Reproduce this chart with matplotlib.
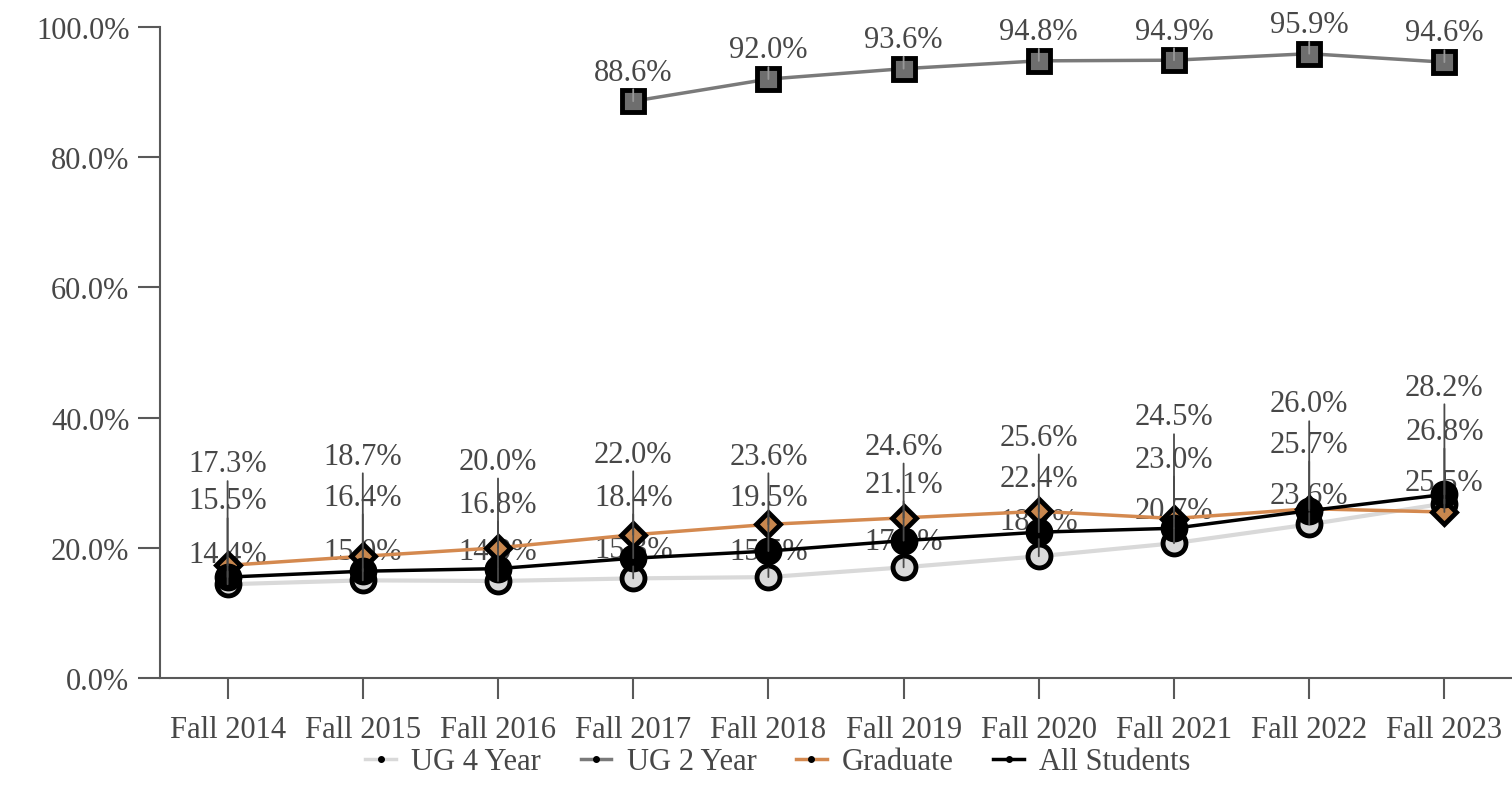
import numpy as np
import matplotlib
matplotlib.use("Agg")
import matplotlib.pyplot as plt
from matplotlib.lines import Line2D

# ---- data ----
years = ['Fall 2014', 'Fall 2015', 'Fall 2016', 'Fall 2017', 'Fall 2018',
         'Fall 2019', 'Fall 2020', 'Fall 2021', 'Fall 2022', 'Fall 2023']
ug4 = [14.4, 15.0, 14.9, 15.3, 15.5, 17.0, 18.7, 20.7, 23.6, 26.8]
ug2 = [np.nan, np.nan, np.nan, 88.6, 92.0, 93.6, 94.8, 94.9, 95.9, 94.6]
grad = [17.3, 18.7, 20.0, 22.0, 23.6, 24.6, 25.6, 24.5, 26.0, 25.5]
allst = [15.5, 16.4, 16.8, 18.4, 19.5, 21.1, 22.4, 23.0, 25.7, 28.2]
yticks = [0, 20, 40, 60, 80, 100]

# ---- layout: heights (in %) of the stacked labels, top / middle / bottom ----
label_heights = [
    [32.9, 27.2, 19.0], [34.1, 27.8, 19.4], [33.3, 26.7, 19.4],
    [34.4, 27.8, 19.8], [34.1, 27.8, 19.5], [35.6, 29.8, 21.0],
    [37.0, 30.6, 24.0], [40.1, 33.6, 25.7], [42.1, 35.9, 28.0],
    [44.7, 37.9, 30.1],
]

FONT = 'Liberation Serif'
TXT = '#474747'
FS = 22

plt.rcParams['font.family'] = [FONT, 'DejaVu Serif']

fig = plt.figure(figsize=(15.12, 8.04), dpi=100)
ax = fig.add_axes([160 / 1512, 1 - 679 / 804, 1 - 160 / 1512, (679 - 28) / 804])

x = np.arange(len(years))

c_ug4_line = '#d9d9d9'
c_ug2_line = '#7a7a7a'
c_grad_line = '#d4894f'

ax.plot(x, ug4, color=c_ug4_line, lw=3, marker='o', ms=16.5, mfc='#d9d9d9',
        mec='black', mew=3.5, zorder=4)
ax.plot(x, ug2, color=c_ug2_line, lw=2.5, marker='s', ms=16, mfc='#6e6e6e',
        mec='black', mew=3.5, zorder=4)
ax.plot(x, grad, color=c_grad_line, lw=2.5, marker='D', ms=12, mfc='#c8874e',
        mec='black', mew=3.5, zorder=5)
ax.plot(x, allst, color='black', lw=2.5, marker='o', ms=16.5, mfc='black',
        mec='black', mew=3.5, zorder=6)

# stacked labels with leader lines
for i in range(len(years)):
    vals = sorted([ug4[i], grad[i], allst[i]], reverse=True)
    for v, h in zip(vals, label_heights[i]):
        s = f'{v:.1f}%'
        ax.annotate(s, xy=(x[i], v), xytext=(x[i], h), textcoords='data',
                    ha='center', va='center', fontsize=FS, color=TXT, zorder=3)
        ax.annotate(s, xy=(x[i], v), xytext=(x[i], h), textcoords='data',
                    ha='center', va='center', fontsize=FS, color='none',
                    zorder=10,
                    arrowprops=dict(arrowstyle='-', color='#4a4a4a', lw=1.3,
                                    shrinkA=0, shrinkB=0, relpos=(0.5, 0.1)))

# UG 2 Year labels
for i in range(len(years)):
    if np.isnan(ug2[i]):
        continue
    s = f'{ug2[i]:.1f}%'
    ax.annotate(s, xy=(x[i], ug2[i]), xytext=(0, 21), textcoords='offset points',
                ha='center', va='center', fontsize=FS, color=TXT, zorder=3)
    ax.annotate(s, xy=(x[i], ug2[i]), xytext=(0, 21), textcoords='offset points',
                ha='center', va='center', fontsize=FS, color='none', zorder=10,
                arrowprops=dict(arrowstyle='-', color='#999999', lw=1.3,
                                shrinkA=0, shrinkB=0, relpos=(0.5, 0.1)))

ax.set_xlim(-0.5, 9.5)
ax.set_ylim(0, 100)
ax.set_yticks(yticks)
ax.set_yticklabels([f'{t:.1f}%' for t in yticks])
ax.set_xticks(x)
ax.set_xticklabels(years)

for side in ['top', 'right']:
    ax.spines[side].set_visible(False)
for side in ['left', 'bottom']:
    ax.spines[side].set_color('#595959')
    ax.spines[side].set_linewidth(1.5)

ax.tick_params(axis='y', length=16, width=1.5, color='#595959', pad=6,
               labelsize=FS, labelcolor=TXT)
ax.tick_params(axis='x', length=15, width=1.5, color='#595959', pad=12,
               labelsize=FS, labelcolor=TXT)

handles = [
    Line2D([], [], color=c_ug4_line, lw=2.5, marker='o', ms=4, mfc='black', mec='black'),
    Line2D([], [], color=c_ug2_line, lw=2.5, marker='o', ms=4, mfc='black', mec='black'),
    Line2D([], [], color=c_grad_line, lw=2.5, marker='o', ms=4, mfc='black', mec='black'),
    Line2D([], [], color='black', lw=2.5, marker='o', ms=4, mfc='black', mec='black'),
]
labels = ['UG 4 Year', 'UG 2 Year', 'Graduate', 'All Students']
leg = fig.legend(handles, labels, loc='center', bbox_to_anchor=(778 / 1512, 1 - 763 / 804),
                 ncol=4, frameon=False, fontsize=FS, handlelength=1.0,
                 handletextpad=0.5, columnspacing=1.3)
for t in leg.get_texts():
    t.set_color(TXT)

fig.savefig('out.png', dpi=100)
